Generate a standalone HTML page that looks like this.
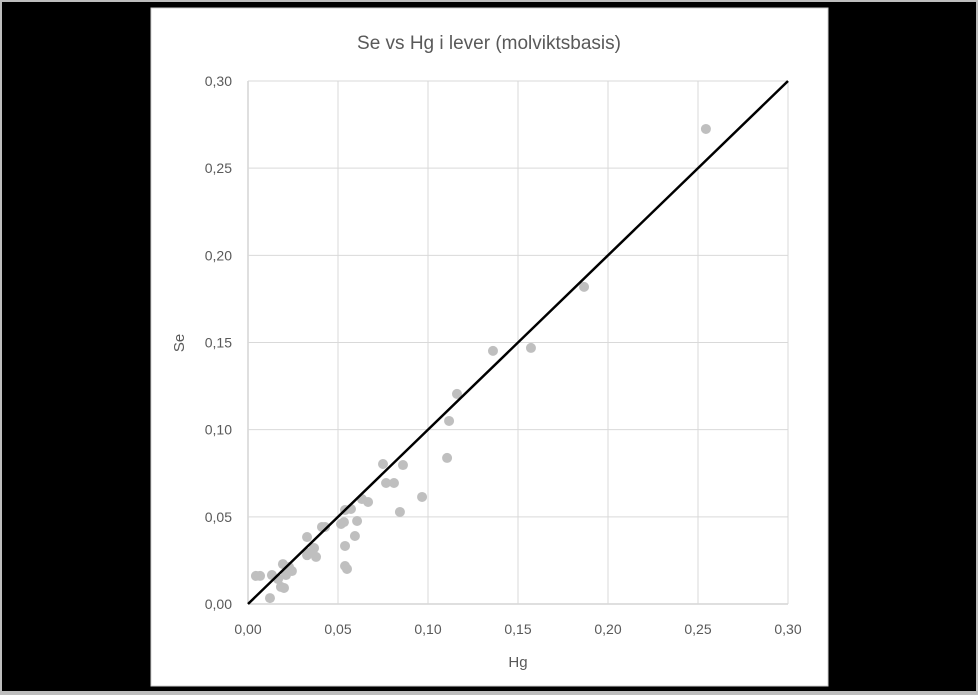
<!DOCTYPE html>
<html><head><meta charset="utf-8"><style>
html,body{margin:0;padding:0;width:978px;height:695px;overflow:hidden;background:#bdbdbd}
#frame{position:absolute;left:2px;top:2px;width:974px;height:689px;background:#000}
svg{position:absolute;left:0;top:0}
text{font-family:"Liberation Sans",sans-serif;fill:#595959}
</style></head><body>
<div id="frame"></div>
<svg id="chart" width="978" height="695">
<rect x="151" y="8" width="677" height="678" fill="#fff" stroke="#d0d0d0"/>
<text x="489" y="49" text-anchor="middle" font-size="19">Se vs Hg i lever (molviktsbasis)</text>
<g id="grid"></g><g id="pts"></g><g id="line"></g><g id="ticks"></g>
<text x="518" y="667" text-anchor="middle" font-size="15">Hg</text>
<text transform="translate(184,343) rotate(-90)" text-anchor="middle" font-size="15">Se</text>
</svg>
<script>
const hgValues=[.2544,.1867,.1572,.1361,.1161,.1117,.1106,.075,.0861,.0767,.0811,.0967,.0844,.0667,.0633,.0572,.0539,.0517,.0533,.0606,.0428,.0411,.0594,.0539,.0328,.0367,.0339,.0378,.0539,.055,.0228,.0194,.0244,.0211,.0133,.0067,.0044,.0183,.02,.0122,.0328,.0167];
const seValues=[.2725,.1819,.1469,.1452,.1205,.105,.0838,.0803,.0797,.0694,.0694,.0614,.0528,.0585,.0602,.0545,.0539,.0459,.047,.0476,.0442,.0442,.039,.0333,.0384,.0321,.0293,.027,.0218,.0201,.0212,.0229,.0189,.0166,.0166,.0161,.0161,.0098,.0092,.0034,.028,.0143];
const tickValues=[0,.05,.1,.15,.2,.25,.3];
const tickLabels=["0,00","0,05","0,10","0,15","0,20","0,25","0,30"];
const lineX=[0,.3], lineY=[0,.3];
const NS="http://www.w3.org/2000/svg";
const X0=248,X1=788,Y0=604,Y1=81;
const sx=v=>X0+(v/.3)*(X1-X0), sy=v=>Y0-(v/.3)*(Y0-Y1);
function mk(t,a,p){const e=document.createElementNS(NS,t);for(const k in a)e.setAttribute(k,a[k]);p.appendChild(e);return e;}
const g=document.getElementById('grid'),tk=document.getElementById('ticks');
tickValues.forEach((v,i)=>{
 const h=mk('line',{x1:X0,x2:X1,y1:sy(v),y2:sy(v),stroke:i==0?'#bfbfbf':'#d9d9d9','stroke-width':1},g);
 
 
 const vl=mk('line',{x1:sx(v),x2:sx(v),y1:Y1,y2:Y0,stroke:i==0?'#bfbfbf':'#d9d9d9','stroke-width':1},g);
 
 
 const ty=mk('text',{x:232,y:sy(v)+5,'text-anchor':'end','font-size':14},tk);ty.textContent=tickLabels[i];
 
 
 const tx=mk('text',{x:sx(v),y:634,'text-anchor':'middle','font-size':14},tk);tx.textContent=tickLabels[i];
 
 
});
const p=document.getElementById('pts');
hgValues.forEach((h,i)=>{
 const c=mk('circle',{cx:sx(h),cy:sy(seValues[i]),r:5,fill:'#bfbfbf'},p);
 
 
});
const l=mk('line',{x1:sx(lineX[0]),y1:sy(lineY[0]),x2:sx(lineX[1]),y2:sy(lineY[1]),stroke:'#000','stroke-width':2.5},document.getElementById('line'));


</script>
</body></html>
